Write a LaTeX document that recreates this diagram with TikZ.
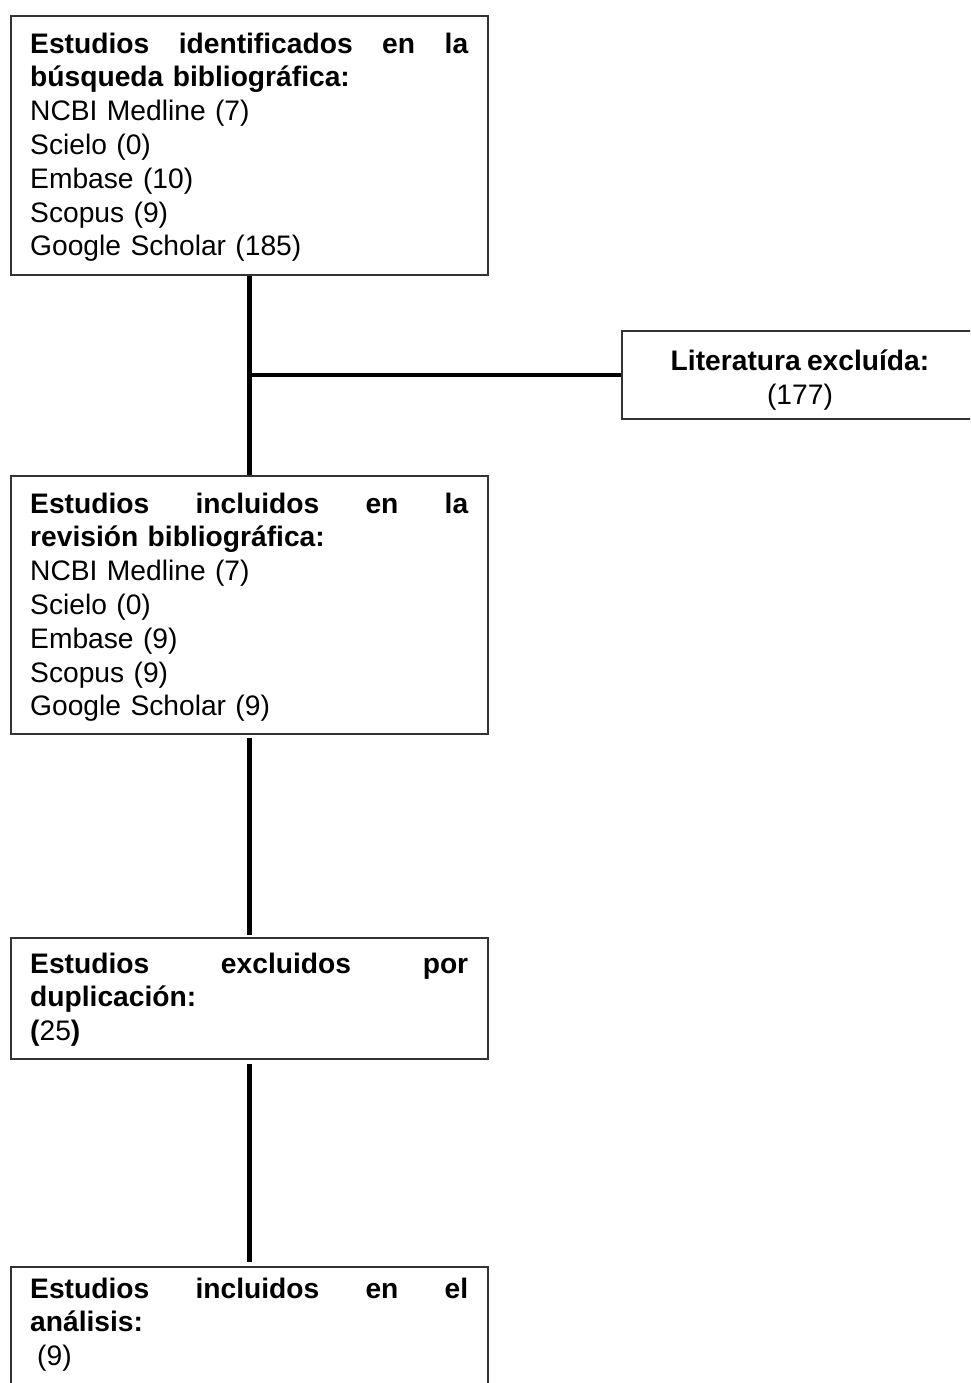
\documentclass[tikz,border=0pt]{standalone}
\usepackage{fontspec}
\setmainfont{Liberation Sans}[WordSpace=0.8]
\begin{document}
\begin{tikzpicture}[x=1pt,y=-1pt,
  box/.style={draw=black!80, line width=1.8pt, rectangle, inner sep=0pt, anchor=north west},
  link/.style={line width=4.6pt, black},
  txt/.style={anchor=north west, inner sep=0pt, text width=438pt, align=left, font=\fontsize{28.2}{33.8}\selectfont},
  ctxt/.style={anchor=north, inner sep=0pt, align=center, font=\fontsize{28.2}{33.8}\selectfont}]
\useasboundingbox (0,0) rectangle (970,1383);
\clip (0,0) rectangle (970,1383);
\newcommand{\jline}[1]{\hbox to 438pt{\bfseries #1}}
% boxes
\node[box, minimum width=477pt, minimum height=259pt] (b1) at (10,15) {};
\node[box, minimum width=358pt, minimum height=88pt] (lit) at (621,330) {};
\node[box, minimum width=477pt, minimum height=258pt] (b2) at (10,475) {};
\node[box, minimum width=477pt, minimum height=121pt] (b3) at (10,937) {};
\node[box, minimum width=477pt, minimum height=160pt] (b4) at (10,1266) {};
% texts
\node[txt] (t1) at (30,32.5) {\jline{Estudios\hfill identificados\hfill en\hfill la}\\
{\bfseries búsqueda bibliográfica:}\\
NCBI Medline (7)\\
Scielo (0)\\
Embase (10)\\
Scopus (9)\\
Google Scholar (185)};
\node[ctxt] (tl) at (800,349.5) {{\bfseries Literatura excluída:}\\(177)};
\node[txt] (t2) at (30,492.5) {\jline{Estudios\hfill incluidos\hfill en\hfill la}\\
{\bfseries revisión bibliográfica:}\\
NCBI Medline (7)\\
Scielo (0)\\
Embase (9)\\
Scopus (9)\\
Google Scholar (9)};
\node[txt] (t3) at (30,952.5) {\jline{Estudios\hfill excluidos\hfill por}\\
{\bfseries duplicación:}\\
{\bfseries(}25{\bfseries)}};
\node[txt] (t4) at (30,1277.5) {\jline{Estudios\hfill incluidos\hfill en\hfill el}\\
{\bfseries análisis:}\\
\hspace*{7pt}(9)};
% connectors
\draw[link] (b1.south) -- (b2.north);
\draw[link] (b1.south |- lit.west) -- (lit.west);
\draw[link, shorten <=3pt, shorten >=2pt] (b2.south) -- (b3.north);
\draw[link, shorten <=4pt, shorten >=4pt] (b3.south) -- (b4.north);
\end{tikzpicture}
\end{document}
